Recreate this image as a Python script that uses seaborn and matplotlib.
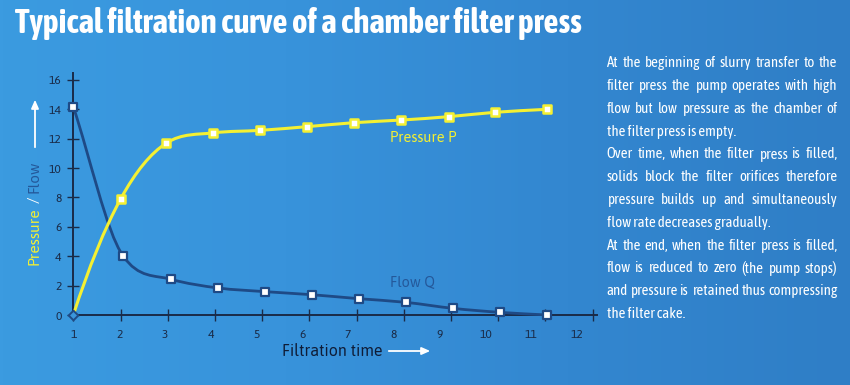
import numpy as np
import pandas as pd
import seaborn as sns
import matplotlib
matplotlib.use("Agg")
import matplotlib.pyplot as plt
from matplotlib.path import Path
from matplotlib.patches import PathPatch, FancyArrowPatch
from matplotlib.colors import LinearSegmentedColormap
from matplotlib.font_manager import FontProperties

# ---------------- data ----------------
time_pressure = [1.0, 2.0, 2.97, 3.97, 4.96, 5.95, 6.94, 7.94, 8.95, 9.94, 11.03]
pressure = [0.0, 7.88, 11.7, 12.4, 12.57, 12.82, 13.09, 13.27, 13.5, 13.8, 14.0]
time_flow = [1.0, 2.05, 3.07, 4.07, 5.06, 6.06, 7.05, 8.05, 9.05, 10.04, 11.04]
flow = [14.18, 4.04, 2.43, 1.84, 1.59, 1.38, 1.11, 0.86, 0.45, 0.18, 0.0]
x_ticks = [1, 2, 3, 4, 5, 6, 7, 8, 9, 10, 11, 12]
y_ticks = [0, 2, 4, 6, 8, 10, 12, 14, 16]

title = "Typical filtration curve of a chamber filter press"
x_label = "Filtration time"
y_label_parts = ["Pressure", "/", "Flow"]
pressure_label = "Pressure P"
flow_label = "Flow Q"
paragraph_lines = [
    ("At the beginning of slurry transfer to the", True),
    ("filter press the pump operates with high", True),
    ("flow but low pressure as the chamber of", True),
    ("the filter press is empty.", False),
    ("Over time, when the filter press is filled,", True),
    ("solids block the filter orifices therefore", True),
    ("pressure builds up and simultaneously", True),
    ("flow rate decreases gradually.", False),
    ("At the end, when the filter press is filled,", True),
    ("flow is reduced to zero (the pump stops)", True),
    ("and pressure is retained thus compressing", True),
    ("the filter cake.", False),
]

# ---------------- style ----------------
YELLOW = "#f4f032"
FLOWC = "#1e4a86"
FLOWTXT = "#24589a"
AXISC = "#1a2b48"
W, H = 850, 385

COND = ["Asap Condensed", "DejaVu Sans"]
LABF = ["Asap", "Open Sans", "DejaVu Sans"]

fig = plt.figure(figsize=(W / 100, H / 100), dpi=100)

# gradient background
bg = fig.add_axes([0, 0, 1, 1], zorder=-10)
grad = np.linspace(0, 1, 256).reshape(1, -1)
cmap = LinearSegmentedColormap.from_list("bg", ["#3b9be0", "#3893db", "#3387d0", "#2f7ec6"])
bg.imshow(grad, aspect="auto", cmap=cmap, extent=[0, 1, 0, 1])
bg.set_axis_off()


def fx(px):
    return px / W


def fy(py):
    return 1 - py / H


# main axes: x=1 at px 73.3 (47.2 px/unit); y=0 at px 315 (14.69 px/unit)
x0, x1 = 1.0, 12.1
y0, y1 = 0.0, 16.5
left_px, right_px = 73.3, 73.3 + (x1 - x0) * 47.2
bot_px, top_px = 315.0, 315.0 - (y1 - y0) * 14.69
ax = fig.add_axes([fx(left_px), fy(bot_px), (right_px - left_px) / W, (bot_px - top_px) / H])
ax.set_facecolor("none")
ax.set_xlim(x0, x1)
ax.set_ylim(y0, y1)
for s in ["top", "right"]:
    ax.spines[s].set_visible(False)
for s in ["left", "bottom"]:
    ax.spines[s].set_color(AXISC)
    ax.spines[s].set_linewidth(1.4)
ax.set_yticks(y_ticks)
ax.set_yticklabels([str(v) for v in y_ticks])
ax.set_xticks(x_ticks)
ax.set_xticklabels([])
ax.tick_params(axis="both", direction="inout", length=9, width=1.0, color=AXISC,
               labelcolor=AXISC, labelsize=8.5)
ax.tick_params(axis="y", pad=4)
for lab in ax.get_yticklabels():
    lab.set_fontweight("bold")
    lab.set_family(LABF)
# x tick labels (drift slightly left as in the reference)
for v in x_ticks:
    ax.text(v - (v - 1) * 0.03, -0.95, str(v), ha="center", va="top", fontsize=8.5,
            fontweight="bold", color=AXISC, family=LABF, clip_on=False)


def smooth_path(xs, ys, end_three_point):
    """Monotone cubic (Fritsch-Carlson limited) Bezier path through the data points."""
    xs = np.asarray(xs, float)
    ys = np.asarray(ys, float)
    h = np.diff(xs)
    d = np.diff(ys) / h
    n = len(xs)
    m = np.zeros(n)
    for k in range(1, n - 1):
        m[k] = 0.0 if d[k - 1] * d[k] <= 0 else 0.5 * (d[k - 1] + d[k])
    if end_three_point:
        m[0] = ((2 * h[0] + h[1]) * d[0] - h[0] * d[1]) / (h[0] + h[1])
    else:
        m[0] = d[0]
    m[-1] = d[-1]
    for k in range(n - 1):
        if d[k] == 0:
            m[k] = m[k + 1] = 0
            continue
        a, b = m[k] / d[k], m[k + 1] / d[k]
        if a * a + b * b > 9:
            t = 3 / np.hypot(a, b)
            m[k], m[k + 1] = t * a * d[k], t * b * d[k]
    verts = [(xs[0], ys[0])]
    codes = [Path.MOVETO]
    for k in range(n - 1):
        verts += [(xs[k] + h[k] / 3, ys[k] + m[k] * h[k] / 3),
                  (xs[k + 1] - h[k] / 3, ys[k + 1] - m[k + 1] * h[k] / 3),
                  (xs[k + 1], ys[k + 1])]
        codes += [Path.CURVE4] * 3
    return Path(verts, codes)


ax.add_patch(PathPatch(smooth_path(time_flow, flow, False), fc="none", ec=FLOWC, lw=2.0,
                       zorder=3, clip_on=False, capstyle="round"))
ax.add_patch(PathPatch(smooth_path(time_pressure, pressure, True), fc="none", ec=YELLOW, lw=2.2,
                       zorder=4, clip_on=False, capstyle="round"))

df_p = pd.DataFrame({"t": time_pressure, "v": pressure})
df_q = pd.DataFrame({"t": time_flow, "v": flow})
sns.scatterplot(data=df_q, x="t", y="v", marker="s", s=36, color="white",
                edgecolor=FLOWC, linewidth=1.6, ax=ax, zorder=5, clip_on=False)
sns.scatterplot(data=df_p.iloc[1:], x="t", y="v", marker="s", s=36, color="white",
                edgecolor=YELLOW, linewidth=1.8, ax=ax, zorder=6, clip_on=False)
sns.scatterplot(data=df_p.iloc[:1], x="t", y="v", marker="D", s=24, color="#3b96dc",
                edgecolor=FLOWC, linewidth=1.4, ax=ax, zorder=6, clip_on=False)
ax.set_xlabel("")
ax.set_ylabel("")

ax.text(7.71, 12.05, pressure_label, color=YELLOW, fontsize=10.5, ha="left", va="center",
        family=LABF)
ax.text(7.71, 2.18, flow_label, color=FLOWTXT, fontsize=10.5, ha="left", va="center",
        family=LABF)

# axis titles
fig.text(fx(282), fy(351), x_label, color="#0f1c36", fontsize=11.5, ha="left", va="center",
         family=LABF)
fig.add_artist(FancyArrowPatch((fx(386), fy(351)), (fx(433), fy(351)),
               transform=fig.transFigure, arrowstyle="-|>,head_length=5,head_width=2.2",
               color="white", lw=1.3, mutation_scale=1))
fig.add_artist(FancyArrowPatch((fx(35), fy(150)), (fx(35), fy(97)),
               transform=fig.transFigure, arrowstyle="-|>,head_length=5,head_width=2.2",
               color="white", lw=1.3, mutation_scale=1))
ycols = [YELLOW, "white", FLOWTXT]
ycent = [236, 200, 177]
for part, col, yc in zip(y_label_parts, ycols, ycent):
    fig.text(fx(35), fy(yc), part, color=col, fontsize=11, rotation=90,
             ha="center", va="center", family=LABF)

# title, fitted to reference width
renderer = fig.canvas.get_renderer()
fp_title = FontProperties(family=COND, weight="bold", stretch="condensed", size=20)
tw = renderer.get_text_width_height_descent(title, fp_title, ismath=False)[0]
fp_title.set_size(20 * 565 / tw)
fig.text(fx(15), fy(33), title, fontproperties=fp_title, color="white", ha="left",
         va="baseline")

# justified paragraph
par_left, par_right = 606.7, 837.3
base0, step = 67.3, 22.8
fp_par = FontProperties(family=COND, stretch="condensed", size=12)
widest = max(renderer.get_text_width_height_descent(l, fp_par, ismath=False)[0]
             for l, _ in paragraph_lines)
fp_par.set_size(min(13.0, 12 * (par_right - par_left) * 0.985 / widest))
for i, (line, just) in enumerate(paragraph_lines):
    yb = base0 + i * step
    if not just:
        fig.text(fx(par_left), fy(yb), line, fontproperties=fp_par, color="white",
                 ha="left", va="baseline")
        continue
    words = line.split(" ")
    ws = [renderer.get_text_width_height_descent(w_, fp_par, ismath=False)[0] for w_ in words]
    gap = (par_right - par_left - sum(ws)) / (len(words) - 1)
    xcur = par_left
    for w_, wd in zip(words, ws):
        fig.text(fx(xcur), fy(yb), w_, fontproperties=fp_par, color="white",
                 ha="left", va="baseline")
        xcur += wd + gap

fig.savefig("out.png", dpi=100)
